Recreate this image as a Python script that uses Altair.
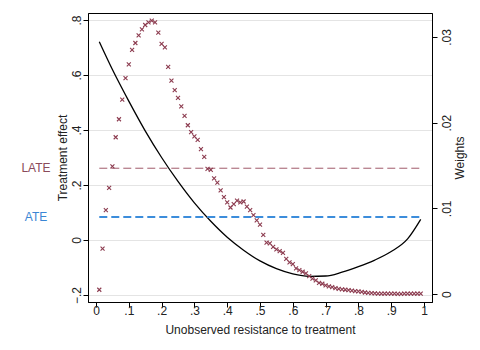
import altair as alt
import pandas as pd

# --- data -------------------------------------------------------------------
u_vals = [0.01, 0.02, 0.03, 0.04, 0.05, 0.06, 0.07, 0.08, 0.09, 0.10,
          0.11, 0.12, 0.13, 0.14, 0.15, 0.16, 0.17, 0.18, 0.19, 0.20,
          0.21, 0.22, 0.23, 0.24, 0.25, 0.26, 0.27, 0.28, 0.29, 0.30,
          0.31, 0.32, 0.33, 0.34, 0.35, 0.36, 0.37, 0.38, 0.39, 0.40,
          0.41, 0.42, 0.43, 0.44, 0.45, 0.46, 0.47, 0.48, 0.49, 0.50,
          0.51, 0.52, 0.53, 0.54, 0.55, 0.56, 0.57, 0.58, 0.59, 0.60,
          0.61, 0.62, 0.63, 0.64, 0.65, 0.66, 0.67, 0.68, 0.69, 0.70,
          0.71, 0.72, 0.73, 0.74, 0.75, 0.76, 0.77, 0.78, 0.79, 0.80,
          0.81, 0.82, 0.83, 0.84, 0.85, 0.86, 0.87, 0.88, 0.89, 0.90,
          0.91, 0.92, 0.93, 0.94, 0.95, 0.96, 0.97, 0.98, 0.99]

weights = [0.0005, 0.0053, 0.0098, 0.0124, 0.0149, 0.0183, 0.0204, 0.0227, 0.0252, 0.0268,
           0.0285, 0.0293, 0.0302, 0.0309, 0.0314, 0.0317, 0.0319, 0.0317, 0.0305, 0.0292,
           0.0288, 0.0265, 0.0249, 0.0238, 0.0229, 0.0219, 0.0208, 0.0197, 0.0189, 0.0184,
           0.0180, 0.0169, 0.0160, 0.0146, 0.0145, 0.0135, 0.0130, 0.0121, 0.0113, 0.0107,
           0.0101, 0.0105, 0.0109, 0.0107, 0.0108, 0.0102, 0.0098, 0.0092, 0.0086, 0.0081,
           0.0069, 0.0060, 0.0059, 0.0055, 0.0052, 0.0050, 0.0048, 0.0041, 0.0037, 0.0035,
           0.0030, 0.0028, 0.0026, 0.0024, 0.0021, 0.0018, 0.0016, 0.0013, 0.0012, 0.0010,
           0.0009, 0.0008, 0.0007, 0.0006, 0.00055, 0.0005, 0.00045, 0.0004, 0.00035, 0.0003,
           0.00024, 0.00018, 0.00013, 0.0001, 0.00007, 0.00006, 0.00005, 0.00005, 0.00004, 0.00004,
           0.00004, 0.00003, 0.00003, 0.00004, 0.00004, 0.00005, 0.00005, 0.00005, 0.00006]

mte_u = [0.01, 0.05, 0.10, 0.15, 0.20, 0.25, 0.30, 0.35, 0.40, 0.45, 0.50,
         0.55, 0.60, 0.65, 0.70, 0.75, 0.80, 0.85, 0.90, 0.95, 0.99]
mte_vals = [0.721, 0.620, 0.505, 0.397, 0.300, 0.213, 0.135, 0.068, 0.010, -0.037, -0.076,
            -0.104, -0.123, -0.132, -0.131, -0.117, -0.097, -0.073, -0.042, 0.004, 0.075]

LATE = 0.261
ATE = 0.084
line_x = [0.01, 0.99]

x_ticks = [0, 0.1, 0.2, 0.3, 0.4, 0.5, 0.6, 0.7, 0.8, 0.9, 1]
left_ticks = [-0.2, 0, 0.2, 0.4, 0.6, 0.8]
right_ticks = [0, 0.01, 0.02, 0.03]

# --- tables -------------------------------------------------------------------
w_df = pd.DataFrame({"u": u_vals, "w": weights})
mte_df = pd.DataFrame({"u": mte_u, "te": mte_vals})
late_df = pd.DataFrame({"u": line_x, "te": [LATE, LATE]})
ate_df = pd.DataFrame({"u": line_x, "te": [ATE, ATE]})

FONT = "Liberation Sans"
XDOM = [-0.0244, 1.0244]
LDOM = [-0.2255, 0.8255]
RDOM = [-0.00093, 0.0328]

x_axis = alt.Axis(values=x_ticks, title="Unobserved resistance to treatment",
                  labelExpr="replace(format(datum.value, '.1~f'), '0.', '.')",
                  grid=False, domainColor="#000", tickColor="#000",
                  tickSize=5, labelPadding=3, labelFontSize=12, labelBaseline="middle",
                  titleFontSize=12, titleY=27, titleBaseline="middle",
                  labelColor="#222", titleColor="#222", labelFlush=False)
x_enc = alt.X("u:Q", scale=alt.Scale(domain=XDOM, nice=False, zero=False), axis=x_axis)

left_scale = alt.Scale(domain=LDOM, nice=False, zero=False)
left_axis = alt.Axis(values=left_ticks, title="Treatment effect",
                     labelExpr="replace(format(datum.value, '.1~f'), '0.', '.')",
                     labelAngle=270, labelAlign="center", labelBaseline="middle",
                     grid=True, gridColor="#e4e4e4", gridWidth=1,
                     domainColor="#000", tickColor="#000", tickSize=5,
                     labelPadding=7, labelFontSize=12, titleFontSize=12,
                     titleX=-26, titleBaseline="middle", titleAngle=270,
                     labelColor="#222", titleColor="#222")
y_left = alt.Y("te:Q", scale=left_scale, axis=left_axis)

curve = alt.Chart(mte_df).mark_line(color="#000", strokeWidth=1.3, interpolate="monotone").encode(
    x=x_enc, y=y_left)

late_line = alt.Chart(late_df).mark_line(color="#a0596a", strokeWidth=1, strokeDash=[8, 4]).encode(
    x=x_enc, y=y_left)
ate_line = alt.Chart(ate_df).mark_line(color="#3c8ddb", strokeWidth=2, strokeDash=[8, 4]).encode(
    x=x_enc, y=y_left)

late_text = alt.Chart(pd.DataFrame({"lab": ["LATE"], "te": [LATE]})).mark_text(
    color="#8a4a5a", font=FONT, fontSize=12, align="center", baseline="middle").encode(
    x=alt.value(-52), y=y_left, text="lab:N")
ate_text = alt.Chart(pd.DataFrame({"lab": ["ATE"], "te": [ATE]})).mark_text(
    color="#3a86d4", font=FONT, fontSize=12, align="center", baseline="middle").encode(
    x=alt.value(-52), y=y_left, text="lab:N")

left_group = alt.layer(curve, late_line, ate_line, late_text, ate_text)

xshape = "M-1,-1L1,1M-1,1L1,-1"
scatter = alt.Chart(w_df).mark_point(shape=xshape, size=16, filled=False,
                                     color="#8c3b4f", strokeWidth=1.1, opacity=1).encode(
    x=x_enc,
    y=alt.Y("w:Q", scale=alt.Scale(domain=RDOM, nice=False, zero=False),
            axis=alt.Axis(orient="right", values=right_ticks, title="Weights",
                          labelExpr="replace(format(datum.value, '.2~f'), '0.', '.')",
                          labelAngle=270, labelAlign="center", labelBaseline="middle",
                          grid=False, domainColor="#000", tickColor="#000", tickSize=5,
                          labelPadding=9, labelFontSize=12, titleFontSize=12,
                          titleX=27, titleBaseline="middle", titleAngle=270,
                          labelColor="#222", titleColor="#222"))
)

chart = alt.layer(left_group, scatter).resolve_scale(y="independent").properties(
    width=344, height=289,
    autosize=alt.AutoSizeParams(type="none"),
    padding={"left": 88, "top": 13, "right": 48, "bottom": 48},
    background="white",
).configure_view(stroke="#000", strokeWidth=1).configure_axis(
    labelFont=FONT, titleFont=FONT, titleFontWeight="normal"
)

chart.save("out.html", embed_options={"renderer": "svg", "actions": False})
